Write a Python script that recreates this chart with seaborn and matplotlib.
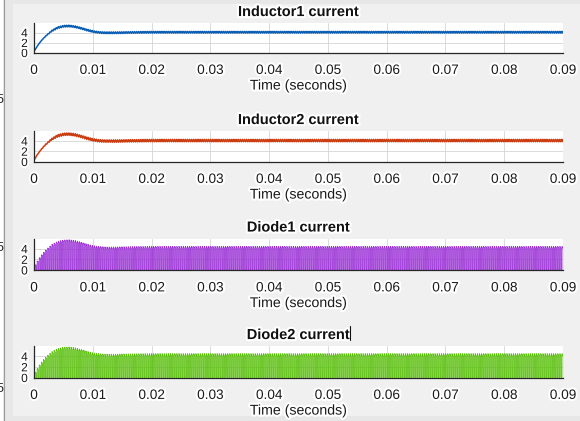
import numpy as np
import pandas as pd
import matplotlib
matplotlib.use("Agg")
import matplotlib.pyplot as plt
import matplotlib.patheffects as pe
from matplotlib.patches import Rectangle
from matplotlib.lines import Line2D
import seaborn as sns

# Mean (averaged) current envelopes, in amperes, at a few instants (seconds)
env_time = [0.0, 0.0005, 0.001, 0.0015, 0.002, 0.003, 0.004, 0.005, 0.006,
            0.007, 0.008, 0.009, 0.010, 0.011, 0.012, 0.014, 0.016, 0.020,
            0.030, 0.090]
inductor1_env = [0.2, 1.2, 2.0, 2.7, 3.3, 4.3, 4.95, 5.25, 5.3, 5.15, 4.85,
                 4.5, 4.2, 4.02, 3.95, 3.95, 4.0, 4.05, 4.05, 4.05]
inductor2_env = [0.2, 1.2, 2.0, 2.7, 3.3, 4.3, 4.95, 5.25, 5.3, 5.15, 4.85,
                 4.5, 4.2, 4.02, 3.95, 3.95, 4.0, 4.05, 4.05, 4.05]
diode1_env = [0.4, 1.4, 2.3, 3.0, 3.6, 4.6, 5.2, 5.45, 5.5, 5.35, 5.05,
              4.7, 4.4, 4.25, 4.15, 4.15, 4.2, 4.25, 4.25, 4.25]
diode2_env = [0.4, 1.4, 2.3, 3.0, 3.6, 4.6, 5.2, 5.45, 5.5, 5.35, 5.05,
              4.7, 4.4, 4.25, 4.15, 4.15, 4.2, 4.25, 4.25, 4.25]

# Converter switching parameters
switch_period = 0.00036   # s
duty_cycle = 0.5
ripple_pp = [0.35, 0.45]  # peak-to-peak inductor ripple, A

titles = ["Inductor1 current", "Inductor2 current", "Diode1 current", "Diode2 current"]
colors = ["#0a5fb4", "#cc3d12", "#9a2fd6", "#58bf0a"]
x_ticks = [0, 0.01, 0.02, 0.03, 0.04, 0.05, 0.06, 0.07, 0.08, 0.09]
x_tick_labels = ["0", "0.01", "0.02", "0.03", "0.04", "0.05", "0.06", "0.07", "0.08", "0.09"]
y_ticks = [0, 2, 4]
x_label = "Time (seconds)"

# Sampled switching waveforms
t = np.linspace(0.0, 0.09, 30001)
phase = (t / switch_period) % 1.0
tri = np.where(phase < duty_cycle, phase / duty_cycle, (1 - phase) / (1 - duty_cycle))
ramp = np.clip(t / 0.004, 0, 1)

def inductor_wave(env, pp):
    base = np.interp(t, env_time, env)
    return base + pp * ramp * (tri - 0.5)

def diode_wave(env, pp):
    base = np.interp(t, env_time, env)
    i = base + pp * (tri - 0.5)
    return np.where(phase >= duty_cycle, i, 0.0)

series = [
    inductor_wave(inductor1_env, ripple_pp[0]),
    inductor_wave(inductor2_env, ripple_pp[1]),
    diode_wave(diode1_env, ripple_pp[0]),
    diode_wave(diode2_env, ripple_pp[1]),
]

sns.set_theme(style="white")
plt.rcParams["font.family"] = ["Liberation Sans", "DejaVu Sans"]

W, H = 580, 421
fig = plt.figure(figsize=(W / 100, H / 100), dpi=100, facecolor="#e7e7e7")

# window panels
fig.patches.append(Rectangle((13 / W, 1 - 416 / H), 1 - 13 / W, (416 - 4) / H,
                             transform=fig.transFigure, facecolor="#f0f0f0",
                             edgecolor="none", zorder=-5))
fig.patches.append(Rectangle((0, 0), 3.2 / W, 1, transform=fig.transFigure,
                             facecolor="white", edgecolor="none", zorder=-4))
fig.lines.append(Line2D([3.6 / W, 3.6 / W], [0, 1], transform=fig.transFigure,
                        color="#9a9a9a", lw=0.8))

halo = [pe.withStroke(linewidth=3, foreground="white")]

tops = [23, 131, 238.5, 346]
bottoms = [52.5, 161.5, 270, 377.5]
left_px, right_px = 34, 563

for k in range(4):
    ax = fig.add_axes([left_px / W, 1 - bottoms[k] / H,
                       (right_px - left_px) / W, (bottoms[k] - tops[k]) / H])
    ax.set_facecolor("white")
    df = pd.DataFrame({"time": t, "current": series[k]})
    lw = 1.1 if k < 2 else 0.6
    sns.lineplot(data=df, x="time", y="current", ax=ax, color=colors[k],
                 lw=lw, estimator=None, sort=False, legend=False)
    if k >= 2:
        ax.fill_between(t, 0, series[k], color=colors[k], alpha=0.18, lw=0)
    ax.set_xlim(0, 0.09)
    ax.set_ylim(0, 5.9)
    ax.set_xticks(x_ticks)
    ax.set_xticklabels(x_tick_labels)
    ax.set_yticks(y_ticks)
    ax.grid(True, color="#d4d4d4", lw=0.6)
    for s in ["top", "right"]:
        ax.spines[s].set_visible(False)
    for s in ["left", "bottom"]:
        ax.spines[s].set_color("#262626")
        ax.spines[s].set_linewidth(0.9)
    ax.tick_params(axis="x", direction="in", length=3.5, width=0.8, color="#262626",
                   pad=7.5, labelsize=9.8, labelcolor="#1a1a1a")
    ax.tick_params(axis="y", direction="in", length=3.5, width=0.8, color="#262626",
                   pad=4.5, labelsize=8.6, labelcolor="#1a1a1a")
    ax.set_ylabel("")
    ax.set_xlabel(x_label, fontsize=10.2, color="#1a1a1a", labelpad=1.2,
                  path_effects=halo)
    ax.set_title(titles[k], fontsize=10.5, fontweight="bold", color="#111111",
                 pad=5.0, path_effects=halo)
    for lab in ax.get_xticklabels() + ax.get_yticklabels():
        lab.set_path_effects(halo)

# partially hidden labels at the window's left edge
for y in [100, 248, 389]:
    fig.text(3.2 / W, 1 - y / H, "5", ha="right", va="center", fontsize=9,
             color="#222222")

# text cursor after the last title
fig.lines.append(Line2D([349.5 / W, 349.5 / W], [1 - 326 / H, 1 - 340 / H],
                        transform=fig.transFigure, color="#111111", lw=0.8))

fig.savefig("out.png", dpi=100, facecolor=fig.get_facecolor())
